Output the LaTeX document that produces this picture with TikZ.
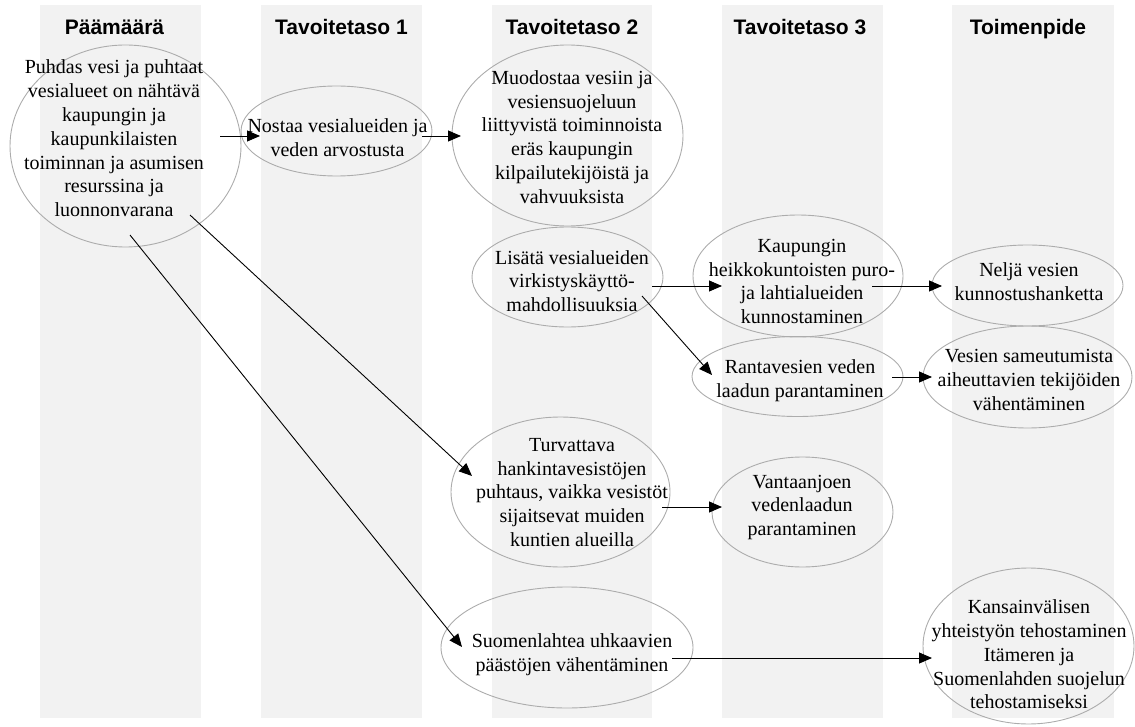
\documentclass[tikz,border=0pt]{standalone}
\usepackage{fontspec}
\setmainfont{Liberation Serif}
\newfontfamily\headfont{Liberation Sans}
\usetikzlibrary{arrows.meta,shapes.geometric,calc}
\definecolor{bandgray}{RGB}{242,242,242}
\definecolor{ovalgray}{RGB}{172,172,172}
\tikzset{
  band/.style={fill=bandgray,draw=none},
  oval/.style={ellipse,draw=ovalgray,line width=0.9pt,inner sep=0pt},
  txt/.style={align=center,inner sep=0pt,font=\fontsize{20}{23.8}\selectfont},
  head/.style={anchor=base,inner sep=0pt,font=\headfont\bfseries\fontsize{21}{25}\selectfont},
  arr/.style={draw=black,line width=0.9pt,-{Triangle[length=13pt,width=11pt]}}
}
\begin{document}
\begin{tikzpicture}[x=1pt,y=-1pt]
\useasboundingbox (0,0) rectangle (1135,727);

% column bands
\fill[band] (40,5) rectangle (201,718);
\fill[band] (261,5) rectangle (422,718);
\fill[band] (492,5) rectangle (652,718);
\fill[band] (722,5) rectangle (883,718);
\fill[band] (952,5) rectangle (1114,718);

% column headings
\node[head] (h1) at (114.5,35) {Päämäärä};
\node[head] (h2) at (341.5,35) {Tavoitetaso 1};
\node[head] (h3) at (572,35) {Tavoitetaso 2};
\node[head] (h4) at (800,35) {Tavoitetaso 3};
\node[head] (h5) at (1028,35) {Toimenpide};

% ovals
\node[oval,minimum width=231pt,minimum height=202pt] (pm) at (125.5,146) {};
\node[oval,minimum width=191pt,minimum height=90pt]  (nv) at (336.5,131) {};
\node[oval,minimum width=231pt,minimum height=181pt] (mu) at (567.5,135.5) {};
\node[oval,minimum width=191pt,minimum height=100pt] (li) at (567.5,277) {};
\node[oval,minimum width=210pt,minimum height=122pt] (ka) at (798,276) {};
\node[oval,minimum width=191pt,minimum height=81pt]  (ne) at (1027.5,285.5) {};
\node[oval,minimum width=211pt,minimum height=80pt]  (ra) at (797.5,376.5) {};
\node[oval,minimum width=209pt,minimum height=102pt] (ve) at (1027.5,377) {};
\node[oval,minimum width=219pt,minimum height=150pt] (tu) at (560.5,492) {};
\node[oval,minimum width=181pt,minimum height=110pt] (va) at (802.5,512) {};
\node[oval,minimum width=252pt,minimum height=121pt] (su) at (567,647.5) {};
\node[oval,minimum width=211pt,minimum height=156pt] (ks) at (1028.5,646) {};

% texts
\node[txt] (pmt) at (114,138.5) {Puhdas vesi ja puhtaat\\vesialueet on nähtävä\\kaupungin ja\\kaupunkilaisten\\toiminnan ja asumisen\\resurssina ja\\luonnonvarana};
\node[txt] (nvt) at (337.5,137.5) {Nostaa vesialueiden ja\\veden arvostusta};
\node[txt] (mut) at (572,137) {Muodostaa vesiin ja\\vesiensuojeluun\\liittyvistä toiminnoista\\eräs kaupungin\\kilpailutekijöistä ja\\vahvuuksista};
\node[txt] (lit) at (572,281) {Lisätä vesialueiden\\virkistyskäyttö-\\mahdollisuuksia};
\node[txt] (kat) at (802,281.5) {Kaupungin\\heikkokuntoisten puro-\\ja lahtialueiden\\kunnostaminen};
\node[txt] (net) at (1029,281.5) {Neljä vesien\\kunnostushanketta};
\node[txt] (rat) at (800,380.5) {Rantavesien veden\\laadun parantaminen};
\node[txt] (vet) at (1029,380) {Vesien sameutumista\\aiheuttavien tekijöiden\\vähentäminen};
\node[txt] (tut) at (572,492.5) {Turvattava\\hankintavesistöjen\\puhtaus, vaikka vesistöt\\sijaitsevat muiden\\kuntien alueilla};
\node[txt] (vat) at (802,507.5) {Vantaanjoen\\vedenlaadun\\parantaminen};
\node[txt] (sut) at (572,654.5) {Suomenlahtea uhkaavien\\päästöjen vähentäminen};
\node[txt] (kst) at (1029,654.5) {Kansainvälisen\\yhteistyön tehostaminen\\Itämeren ja\\Suomenlahden suojelun\\tehostamiseksi};

% connectors
\draw[arr] ($(pm)+(94.5,-10)$) -- ($(nv)+(-76.5,5)$);
\draw[arr] ($(nv)+(85.5,5)$) -- ($(mu)+(-106.5,0.5)$);
\draw[arr] ($(pm)+(64.5,69)$) -- ($(tu)+(-88.5,-16)$);
\draw[arr] ($(pm)+(4.5,89)$) -- ($(su)+(-105,-0.5)$);
\draw[arr] ($(li)+(84.5,9)$) -- ($(ka)+(-76,10)$);
\draw[arr] ($(li)+(74.5,19)$) -- ($(ra)+(-85.5,-1.5)$);
\draw[arr] ($(ka)+(74,10)$) -- ($(ne)+(-85.5,0.5)$);
\draw[arr] ($(ra)+(94.5,0.5)$) -- ($(ve)+(-95.5,0)$);
\draw[arr] ($(tu)+(101.5,15)$) -- ($(va)+(-80.5,-5)$);
\draw[arr] ($(su)+(105,10.5)$) -- ($(ks)+(-96.5,12)$);
\end{tikzpicture}
\end{document}
